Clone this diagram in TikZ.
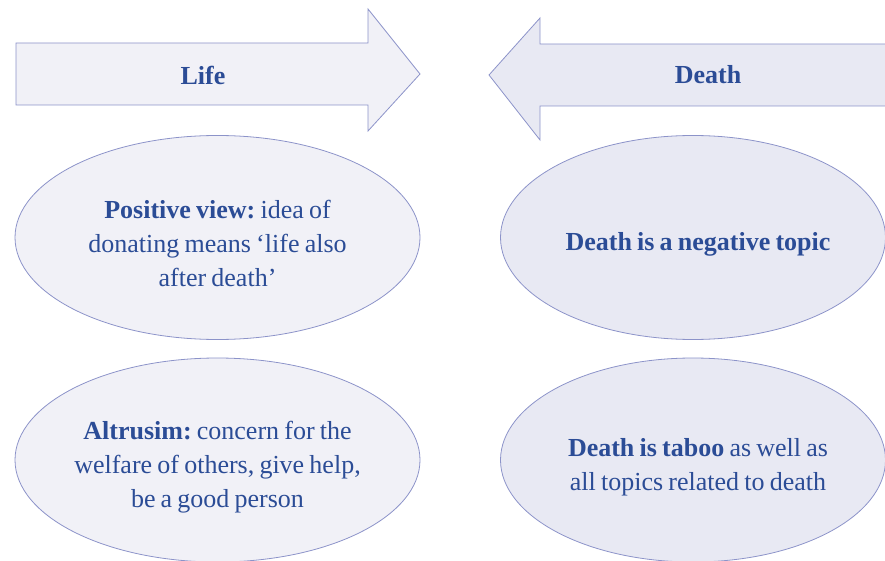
\documentclass[tikz,border=0pt]{standalone}
\usepackage{fontspec}
\setmainfont[WordSpace=0.8]{Liberation Serif}
\usetikzlibrary{shapes.geometric}
\frenchspacing

\begin{document}
\begin{tikzpicture}[x=1pt,y=-1pt]
% ------------------------------------------------ organ donation theme colors
\definecolor{od_text}{RGB}{43,76,150}    %#2B4C96
\definecolor{od_line}{RGB}{140,147,201}  %#8C93C9
\definecolor{od_life}{RGB}{241,241,247}  %#F1F1F7
\definecolor{od_death}{RGB}{232,233,243} %#E8E9F3

\tikzset{
  txt/.style={text=od_text,align=center,font=\fontsize{26}{34}\selectfont},
  bubble/.style={ellipse,draw=od_line,line width=0.8pt,inner sep=0pt,
                 minimum width=405pt,minimum height=204pt},
}

\useasboundingbox (0,0) rectangle (885,561);
\clip (0,0) rectangle (885,561);

% ------------------------------------------------ arrows
\filldraw[od_line,fill=od_life,line width=0.8pt]
  (16,43) -- (368,43) -- (368,9) -- (420,74) -- (368,131) -- (368,105) -- (16,105) -- cycle;
\filldraw[od_line,fill=od_death,line width=0.8pt]
  (900,44) -- (540,44) -- (540,18) -- (489,75) -- (540,140) -- (540,106) -- (900,106) -- cycle;
\node[txt] (life) at (203,75) {\textbf{Life}};
\node[txt] (death) at (708,75) {\textbf{Death}};

% ------------------------------------------------ ellipses
\node[bubble,fill=od_life] (pos) at (217.5,237.5) {};
\node[txt] (postxt) at (217.5,243) {\textbf{Positive view:} idea of\\donating means `life also\\after death'};

\node[bubble,fill=od_life] (alt) at (217.5,460) {};
\node[txt] (alttxt) at (217.5,467) {\textbf{Altrusim:} concern for the\\welfare of others, give help,\\be a good person};

\node[bubble,fill=od_death,minimum width=385pt] (neg) at (693,237.5) {};
\node[txt] (negtxt) at (698,244) {\textbf{Death is a negative topic}};

\node[bubble,fill=od_death,minimum width=385pt] (tab) at (693,460) {};
\node[txt] (tabtxt) at (698,467) {\textbf{Death is taboo} as well as\\all topics related to death};

\end{tikzpicture}
\end{document}
